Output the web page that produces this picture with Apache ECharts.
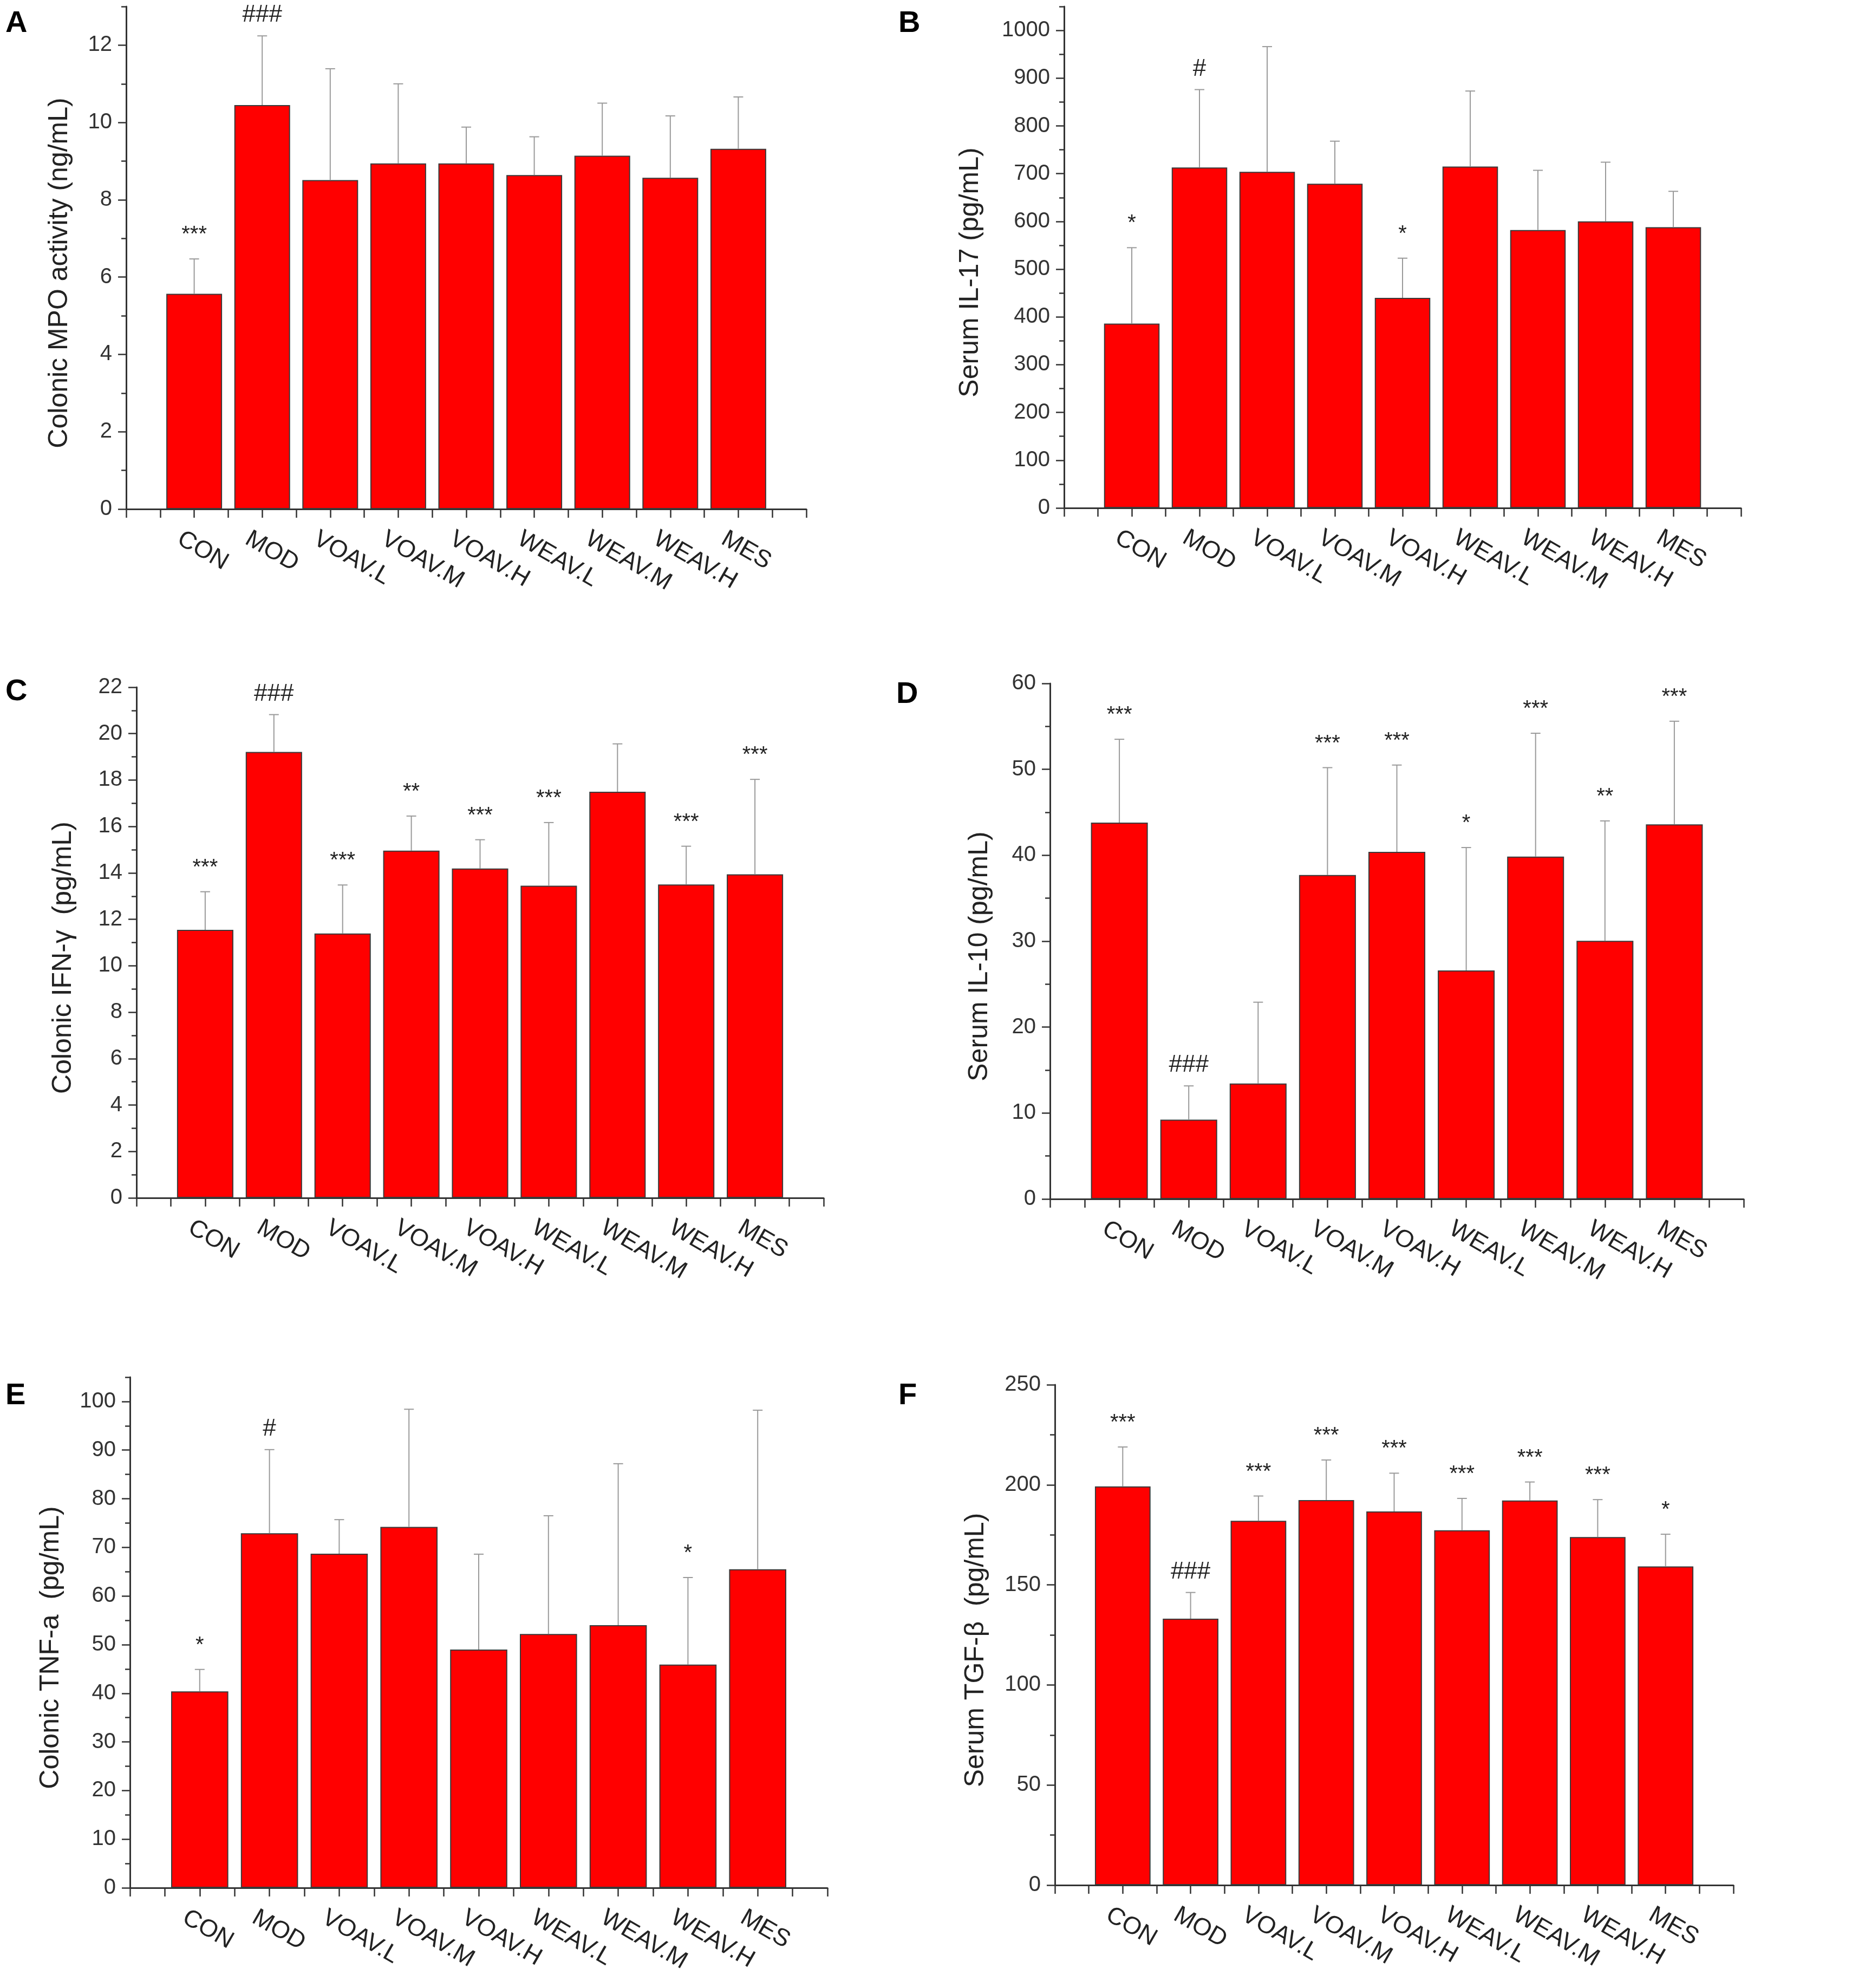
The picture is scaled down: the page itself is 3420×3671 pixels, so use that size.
<!DOCTYPE html>
<html>
<head>
<meta charset="utf-8">
<script src="https://cdn.jsdelivr.net/npm/echarts@6/dist/echarts.min.js"></script>
<style>
html, body { margin: 0; padding: 0; background: #fff; }
#chart { width: 3420px; height: 3671px; }
</style>
</head>
<body>
<div id="chart"></div>
<script>
var groups = ['CON', 'MOD', 'VOAV.L', 'VOAV.M', 'VOAV.H', 'WEAV.L', 'WEAV.M', 'WEAV.H', 'MES'];

// A - colonic MPO activity
var mpoMean  = [5.57, 10.45, 8.51, 8.94, 8.94, 8.64, 9.14, 8.57, 9.32];
var mpoUpper = [6.47, 12.24, 11.39, 11.0, 9.88, 9.63, 10.5, 10.17, 10.66];
var mpoSig   = ['***', '###', '', '', '', '', '', '', ''];

// B - serum IL-17
var il17Mean  = [386, 713, 704, 679, 440, 715, 582, 600, 588];
var il17Upper = [545, 876, 966, 768, 523, 873, 707, 724, 663];
var il17Sig   = ['*', '#', '', '', '*', '', '', '', ''];

// C - colonic IFN-γ
var ifnMean  = [11.55, 19.21, 11.39, 14.96, 14.19, 13.45, 17.5, 13.5, 13.94];
var ifnUpper = [13.19, 20.82, 13.48, 16.45, 15.43, 16.17, 19.56, 15.15, 18.03];
var ifnSig   = ['***', '###', '***', '**', '***', '***', '', '***', '***'];

// D - serum IL-10
var il10Mean  = [43.8, 9.23, 13.44, 37.7, 40.4, 26.6, 39.85, 30.05, 43.6];
var il10Upper = [53.5, 13.16, 22.9, 50.2, 50.5, 40.9, 54.2, 44.0, 55.6];
var il10Sig   = ['***', '###', '', '***', '***', '*', '***', '**', '***'];

// E - colonic TNF-a
var tnfMean  = [40.4, 72.9, 68.7, 74.2, 49.0, 52.2, 54.0, 45.9, 65.5];
var tnfUpper = [44.9, 90.1, 75.7, 98.4, 68.6, 76.5, 87.2, 63.8, 98.2];
var tnfSig   = ['*', '#', '', '', '', '', '', '*', ''];

// F - serum TGF-β
var tgfMean  = [199.2, 133.1, 182.0, 192.4, 186.7, 177.3, 192.2, 173.9, 159.2];
var tgfUpper = [218.9, 146.2, 194.4, 212.4, 205.8, 193.2, 201.4, 192.6, 175.3];
var tgfSig   = ['***', '###', '***', '***', '***', '***', '***', '***', '*'];

var panels = [
    { letter: 'A', title: 'Colonic MPO activity (ng/mL)', mean: mpoMean, upper: mpoUpper, sig: mpoSig, max: 13, major: 2, minor: 1 },
    { letter: 'B', title: 'Serum IL-17 (pg/mL)', mean: il17Mean, upper: il17Upper, sig: il17Sig, max: 1050, major: 100, minor: 50 },
    { letter: 'C', title: 'Colonic IFN-\u03b3  (pg/mL)', mean: ifnMean, upper: ifnUpper, sig: ifnSig, max: 22, major: 2, minor: 1 },
    { letter: 'D', title: 'Serum IL-10 (pg/mL)', mean: il10Mean, upper: il10Upper, sig: il10Sig, max: 60, major: 10, minor: 5 },
    { letter: 'E', title: 'Colonic TNF-a  (pg/mL)', mean: tnfMean, upper: tnfUpper, sig: tnfSig, max: 105, major: 10, minor: 5 },
    { letter: 'F', title: 'Serum TGF-\u03b2  (pg/mL)', mean: tgfMean, upper: tgfUpper, sig: tgfSig, max: 250, major: 50, minor: 25 }
];

// where each panel sits on the page
var layout = [
    { left: 233, top: 12, width: 1256, height: 928, gap: 98, lx: 10, ly: 16 },
    { left: 1965, top: 12, width: 1250, height: 926, gap: 148, lx: 1659, ly: 16 },
    { left: 252, top: 1269, width: 1269, height: 943, gap: 110, lx: 10, ly: 1250 },
    { left: 1939, top: 1262, width: 1281, height: 952, gap: 105, lx: 1655, ly: 1255 },
    { left: 240, top: 2543, width: 1288, height: 943, gap: 121, lx: 10, ly: 2550 },
    { left: 1948, top: 2557, width: 1253, height: 924, gap: 121, lx: 1659, ly: 2550 }
];

var FONT = "'Liberation Sans', Arial, sans-serif";
var AXIS_COLOR = '#333';
var LABEL_SHIFT = 0.22;   // rotated group names start a little left of their tick

function majorValues(max, step) {
    var out = [];
    for (var v = 0; v <= max + 1e-9; v += step) out.push(+v.toFixed(6));
    return out;
}

function errorRenderer(sig) {
    return function (params, api) {
        var i = params.dataIndex;
        var base = api.coord([api.value(0), api.value(1)]);
        var top = api.coord([api.value(0), api.value(2)]);
        var children = [
            { type: 'line', shape: { x1: base[0], y1: base[1], x2: top[0], y2: top[1] },
              style: { stroke: '#9a9a9a', lineWidth: 2 } },
            { type: 'line', shape: { x1: top[0] - 9, y1: top[1], x2: top[0] + 9, y2: top[1] },
              style: { stroke: '#9a9a9a', lineWidth: 2 } }
        ];
        if (sig[i]) {
            var hash = sig[i].charAt(0) === '#';
            children.push({
                type: 'text',
                style: {
                    text: sig[i], x: top[0], y: top[1] - (hash ? 38 : 44),
                    align: 'center', verticalAlign: 'middle',
                    fontSize: hash ? 44 : 40, fontFamily: FONT, fill: '#222'
                }
            });
        }
        return { type: 'group', children: children };
    };
}

var option = { animation: false, backgroundColor: '#fff', grid: [], xAxis: [], yAxis: [], series: [], graphic: [] };
var groupTicks = groups.map(function (g, i) { return i + 1; });

panels.forEach(function (p, k) {
    var L = layout[k];
    option.grid.push({ left: L.left, top: L.top, width: L.width, height: L.height });

    // main x axis: line and ticks at group centres and half-way points
    option.xAxis.push({
        gridIndex: k, type: 'value', min: 0, max: 10, interval: 0.5, position: 'bottom',
        axisLine: { show: true, onZero: false, lineStyle: { color: AXIS_COLOR, width: 3 } },
        axisTick: { show: true, inside: false, length: 16, lineStyle: { color: AXIS_COLOR, width: 2.5 } },
        splitLine: { show: false },
        axisLabel: { show: false }
    });
    // label-only x axis for the slanted group names
    option.xAxis.push({
        gridIndex: k, type: 'value', min: LABEL_SHIFT, max: 10 + LABEL_SHIFT, position: 'bottom',
        axisLine: { show: false }, axisTick: { show: false }, splitLine: { show: false },
        axisLabel: {
            customValues: groupTicks,
            rotate: -30, margin: 52, fontSize: 45, color: '#222', fontFamily: FONT,
            formatter: function (v) {
                return (v >= 1 && v <= 9 && v % 1 === 0) ? groups[v - 1] : '';
            }
        }
    });

    // minor y axis: line + short ticks
    option.yAxis.push({
        gridIndex: k, type: 'value', min: 0, max: p.max, interval: p.minor, position: 'left',
        name: p.title, nameLocation: 'middle', nameGap: L.gap, nameRotate: 90,
        nameTextStyle: { fontSize: 50, color: '#222', fontFamily: FONT, padding: [0, 56, 0, 0] },
        axisLine: { show: true, onZero: false, lineStyle: { color: AXIS_COLOR, width: 3 } },
        axisTick: { show: true, inside: false, length: 9, lineStyle: { color: AXIS_COLOR, width: 2.5 } },
        axisLabel: { show: false },
        splitLine: { show: false }
    });
    // major y axis: long ticks + labels
    var majors = majorValues(p.max, p.major);
    option.yAxis.push({
        gridIndex: k, type: 'value', min: 0, max: p.max, interval: p.major, position: 'left',
        axisLine: { show: false, onZero: false },
        axisTick: { show: true, inside: false, length: 15, customValues: majors,
                    lineStyle: { color: AXIS_COLOR, width: 2.5 } },
        axisLabel: {
            fontSize: 40, margin: 26, color: '#333', fontFamily: FONT, customValues: majors,
            formatter: function (v) { return (Math.abs(v / p.major - Math.round(v / p.major)) < 1e-6) ? String(v) : ''; }
        },
        splitLine: { show: false }
    });

    var barData = p.mean.map(function (m, i) { return [i + 1, m]; });
    var errData = p.mean.map(function (m, i) { return [i + 1, m, p.upper[i]]; });

    option.series.push({
        type: 'bar', xAxisIndex: 2 * k, yAxisIndex: 2 * k,
        data: barData, barWidth: L.width / 10 * 0.82,
        itemStyle: { color: '#ff0000', borderColor: '#3a3a3a', borderWidth: 2 }
    });
    option.series.push({
        type: 'custom', xAxisIndex: 2 * k, yAxisIndex: 2 * k, clip: false, z: 5,
        data: errData, encode: { x: 0, y: [1, 2] },
        renderItem: errorRenderer(p.sig)
    });

    option.graphic.push({
        type: 'text', left: L.lx, top: L.ly,
        style: { text: p.letter, fontSize: 56, fontWeight: 'bold', fontFamily: FONT, fill: '#000' }
    });
});

var myChart = echarts.init(document.getElementById('chart'));
myChart.setOption(option);
</script>
</body>
</html>
